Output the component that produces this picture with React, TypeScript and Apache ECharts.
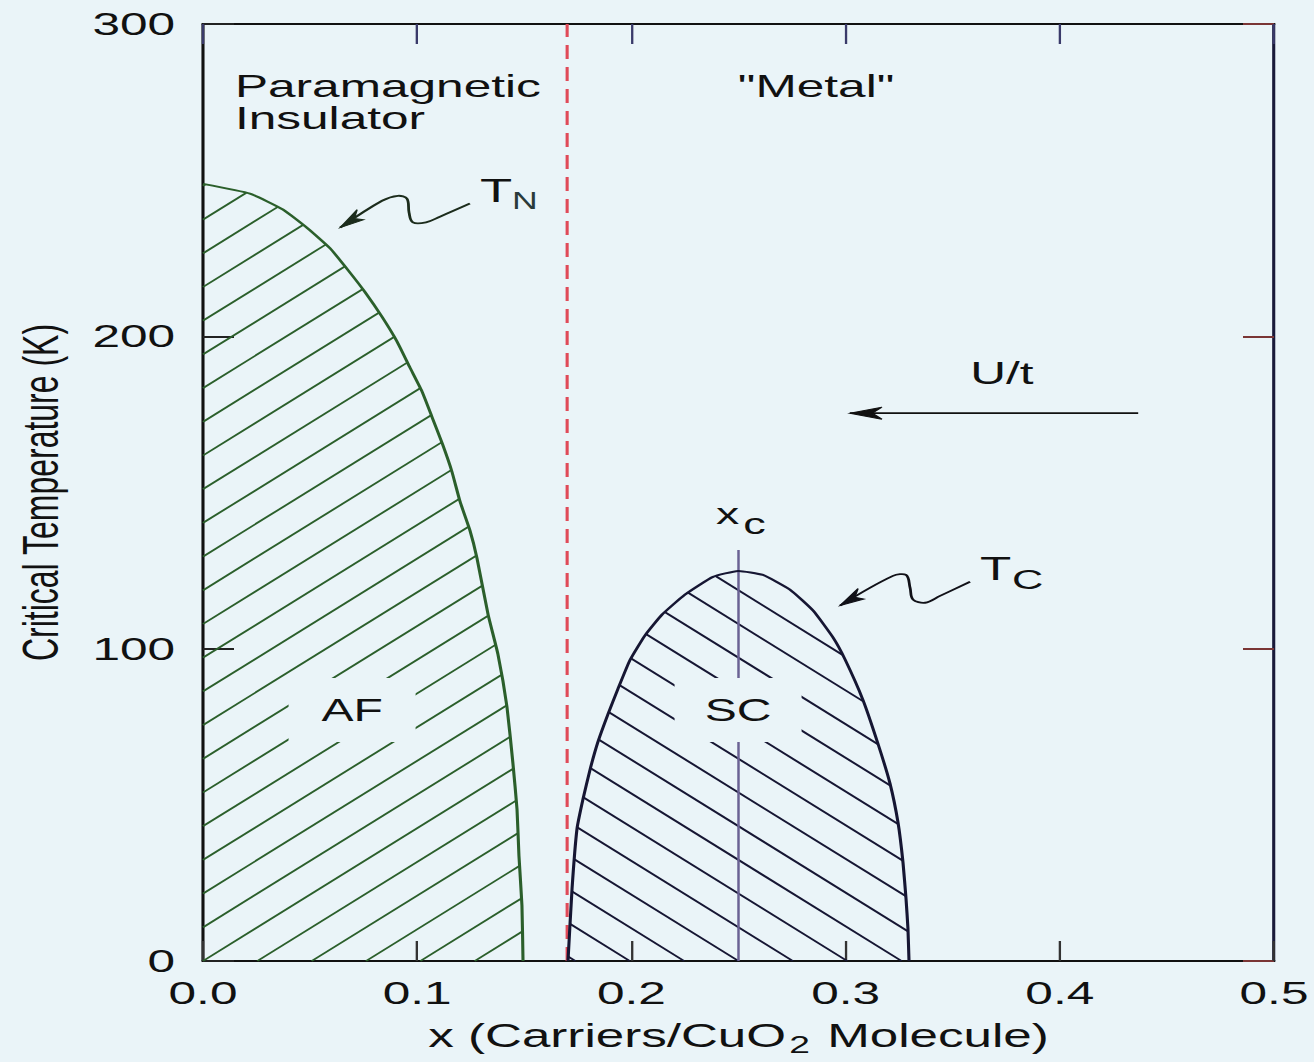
import React, { useEffect, useRef } from 'react';
import * as echarts from 'echarts';

// ---------- data ----------
const X_MIN = 0;
const X_MAX = 0.5;
const X_STEP = 0.1;
const Y_MIN = 0;
const Y_MAX = 300;
const Y_STEP = 100;

// Neel temperature dome (antiferromagnet)
const AF_X = [0, 0.0219, 0.0373, 0.049, 0.0593, 0.0677, 0.0756, 0.0836, 0.0906, 0.0966, 0.1022, 0.1069, 0.1118, 0.1162, 0.12, 0.1246, 0.1279, 0.1331, 0.1377, 0.1419, 0.1447, 0.1466, 0.1475, 0.1489, 0.1494];
const AF_T = [248.8, 245.7, 240.6, 234.5, 228.2, 221.2, 214.2, 206.2, 198.3, 190.0, 182.4, 174.2, 165.5, 156.7, 147.1, 137.9, 129.0, 110.9, 98.2, 81.4, 63.2, 48.6, 33.7, 17.8, 0];

// superconducting dome
const SC_X = [0.1704, 0.1723, 0.1746, 0.1774, 0.1807, 0.1844, 0.1891, 0.1937, 0.1993, 0.2063, 0.2143, 0.225, 0.2381, 0.2498, 0.2614, 0.274, 0.2848, 0.2941, 0.2997, 0.3081, 0.3151, 0.3207, 0.3245, 0.3268, 0.3282, 0.3291, 0.3296];
const SC_T = [0, 23.2, 42.3, 51.8, 61.3, 70.2, 79.1, 87.1, 96.3, 104.2, 110.9, 117.3, 123.0, 124.9, 123.6, 118.9, 112.2, 103.6, 96.6, 83.6, 69.6, 56.9, 44.2, 31.5, 20.0, 10.5, 0];

const BOUNDARY_X = [0.17, 0.17];
const BOUNDARY_T = [0, 300];
const XC_X = [0.25, 0.25];
const XC_T = [0, 131.6];

// annotation arrows (data space)
const TN_ARROW_X = [0.064, 0.0836, 0.091, 0.0952, 0.0962, 0.098, 0.1041, 0.1106, 0.1246];
const TN_ARROW_T = [234.8, 243.4, 245.0, 244.1, 239.6, 236.5, 236.5, 238.3, 242.5];
const TC_ARROW_X = [0.2974, 0.3221, 0.3282, 0.3301, 0.3315, 0.3371, 0.3441, 0.3581];
const TC_ARROW_T = [113.8, 123.3, 123.6, 119.5, 115.7, 114.7, 116.9, 121.4];
const UT_ARROW_X = [0.302, 0.4366];
const UT_ARROW_T = [175.4, 175.4];

// ---------- layout / style ----------
const S = 1314 / 848; // horizontal stretch of the original figure
const W = 848;
const H = 1062;
const BG = '#eaf4f8';
const FONT = '"Liberation Sans", Arial, Helvetica, sans-serif';
const HATCH_SLOPE = 0.62; // in final pixel space
const HATCH_GAP = 33.7; // vertical spacing (px)
const AF_COLOR = '#2b5f2b';
const SC_COLOR = '#161633';
const BOX_W = 127 / S;
const BOX_H = 64;

type P = number[];

function hatch(poly: P[], slope: number, anchor: P, d: number): P[][] {
  const g = (p: P) => p[1] - slope * p[0];
  const c0 = g(anchor);
  const gs = poly.map(g);
  const gmin = Math.min(...gs);
  const gmax = Math.max(...gs);
  const k0 = Math.ceil((gmin - c0) / d);
  const k1 = Math.floor((gmax - c0) / d);
  const segs: P[][] = [];
  for (let k = k0; k <= k1; k++) {
    const c = c0 + k * d;
    const xs: P[] = [];
    for (let i = 0; i < poly.length; i++) {
      const p = poly[i];
      const q = poly[(i + 1) % poly.length];
      const fp = g(p) - c;
      const fq = g(q) - c;
      if ((fp < 0 && fq >= 0) || (fp >= 0 && fq < 0)) {
        const t = fp / (fp - fq);
        xs.push([p[0] + t * (q[0] - p[0]), p[1] + t * (q[1] - p[1])]);
      }
    }
    xs.sort((a, b) => a[0] - b[0]);
    for (let j = 0; j + 1 < xs.length; j += 2) segs.push([xs[j], xs[j + 1]]);
  }
  return segs;
}

function arrowHead(tip: P, from: P, L: number, w: number): P[] {
  let dx = (from[0] - tip[0]) * S;
  let dy = from[1] - tip[1];
  const len = Math.hypot(dx, dy) || 1;
  dx /= len;
  dy /= len;
  const nx = -dy;
  const ny = dx;
  const p = (ax: number, ay: number): P => [tip[0] + ax / S, tip[1] + ay];
  return [tip, p(dx * L + nx * w, dy * L + ny * w), p(dx * L * 0.7, dy * L * 0.7), p(dx * L - nx * w, dy * L - ny * w)];
}

function txt(pos: P, text: string, size: number, align = 'left', color = '#111') {
  return {
    type: 'text',
    x: pos[0],
    y: pos[1],
    style: { text, fill: color, fontSize: size, fontFamily: FONT, align, verticalAlign: 'middle' },
  };
}

function domeRender(xs: number[], ts: number[], closeCorner: P | null, slopeSign: number, anchor: P, color: string, hatchW: number, label: string, labelPos: P, extraLine: boolean) {
  return (_params: any, api: any) => {
    const pts = xs.map((x, i) => api.coord([x, ts[i]]));
    const poly = closeCorner ? [api.coord(closeCorner), ...pts] : pts;
    const segs = hatch(poly, slopeSign * HATCH_SLOPE * S, api.coord(anchor), HATCH_GAP);
    const children: any[] = segs.map(([a, b]) => ({
      type: 'line',
      shape: { x1: a[0], y1: a[1], x2: b[0], y2: b[1] },
      style: { stroke: color, lineWidth: hatchW },
    }));
    if (extraLine) {
      const a = api.coord([XC_X[0], XC_T[0]]);
      const b = api.coord([XC_X[1], XC_T[1]]);
      children.push({
        type: 'line',
        shape: { x1: a[0], y1: a[1], x2: b[0], y2: b[1] },
        style: { stroke: '#6a6294', lineWidth: 1.6 },
      });
    }
    children.push({
      type: 'polyline',
      shape: { points: pts, smooth: 0.15 },
      style: { stroke: color, lineWidth: 2, fill: 'none' },
    });
    const c = api.coord(labelPos);
    children.push({
      type: 'rect',
      shape: { x: c[0] - BOX_W / 2, y: c[1] - BOX_H / 2, width: BOX_W, height: BOX_H },
      style: { fill: BG },
    });
    children.push(txt(c, label, 31, 'center'));
    return { type: 'group', children };
  };
}

function annotationsRender(_params: any, api: any) {
  const ch: any[] = [];
  const c = (x: number, t: number) => api.coord([x, t]);
  ch.push(txt(c(0.0149, 280.3), 'Paramagnetic', 32));
  ch.push(txt(c(0.0149, 269.8), 'Insulator', 32));
  ch.push(txt(c(0.2862, 280.3), '"Metal"', 32, 'center'));
  ch.push(txt(c(0.1293, 246.8), 'T', 34));
  ch.push(txt(c(0.1443, 243.4), 'N', 23, 'left', '#2a3a3a'));
  ch.push(txt(c(0.3627, 125.8), 'T', 33));
  ch.push(txt(c(0.3777, 122.3), 'C', 28));
  ch.push(txt(c(0.2395, 143.2), 'x', 30));
  ch.push(txt(c(0.2522, 140.0), 'c', 29));
  ch.push(txt(c(0.373, 188.4), 'U/t', 32, 'center'));

  const arrows: [number[], number[], string, number, number, number][] = [
    [TN_ARROW_X, TN_ARROW_T, '#1c2c1c', 1.8, 24, 6],
    [TC_ARROW_X, TC_ARROW_T, '#111118', 1.8, 24, 6],
    [UT_ARROW_X, UT_ARROW_T, '#111', 1.6, 32, 6],
  ];
  arrows.forEach(([xs, ts, col, lw, L, w]) => {
    const pts = xs.map((x, i) => api.coord([x, ts[i]]));
    ch.push({
      type: 'polyline',
      shape: { points: pts, smooth: xs.length > 2 ? 0.35 : 0 },
      style: { stroke: col, lineWidth: lw, fill: 'none' },
    });
    ch.push({
      type: 'polygon',
      shape: { points: arrowHead(pts[0], pts[1], L, w) },
      style: { fill: col, stroke: col, lineWidth: 1 },
    });
  });
  return { type: 'group', children: ch };
}

export default function App() {
  const ref = useRef<HTMLDivElement>(null);
  useEffect(() => {
    if (!ref.current) return;
    const chart = echarts.init(ref.current, null, { renderer: 'svg' });
    const axisCommonX = {
      type: 'value',
      min: X_MIN,
      max: X_MAX,
      interval: X_STEP,
      splitLine: { show: false },
    };
    const axisCommonY = {
      type: 'value',
      min: Y_MIN,
      max: Y_MAX,
      interval: Y_STEP,
      splitLine: { show: false },
    };
    chart.setOption({
      animation: false,
      backgroundColor: BG,
      grid: { left: 203 / S, right: 40 / S, top: 24, bottom: 96, containLabel: false },
      xAxis: [
        {
          ...axisCommonX,
          position: 'bottom',
          axisLine: { show: true, onZero: false, lineStyle: { color: '#111', width: 2 } },
          axisTick: { show: true, inside: true, length: 20, lineStyle: { color: '#333', width: 1.5 } },
          axisLabel: {
            formatter: (v: number) => v.toFixed(1),
            fontSize: 32,
            fontFamily: FONT,
            color: '#111',
            margin: 16,
          },
          name: '{a|x (Carriers/CuO}{b|2}{a| Molecule)}',
          nameLocation: 'middle',
          nameGap: 54,
          nameTextStyle: {
            rich: {
              a: { fontSize: 33, fontFamily: FONT, color: '#111' },
              b: { fontSize: 24, fontFamily: FONT, color: '#111', padding: [18, 2, 0, 2] },
            },
          },
        },
        {
          ...axisCommonX,
          position: 'top',
          axisLine: { show: true, onZero: false, lineStyle: { color: '#111', width: 2 } },
          axisTick: { show: true, inside: true, length: 20, lineStyle: { color: '#3a3a6a', width: 1.5 } },
          axisLabel: { show: false },
        },
      ],
      yAxis: [
        {
          ...axisCommonY,
          position: 'left',
          axisLine: { show: true, onZero: false, lineStyle: { color: '#111', width: 2 } },
          axisTick: { show: true, inside: true, length: 20, lineStyle: { color: '#222', width: 2 } },
          axisLabel: { fontSize: 32, fontFamily: FONT, color: '#111', margin: 18 },
          name: 'Critical Temperature (K)',
          nameLocation: 'middle',
          nameGap: 89,
          nameRotate: 90,
          nameTextStyle: { fontSize: 32, fontFamily: FONT, color: '#111' },
        },
        {
          ...axisCommonY,
          position: 'right',
          axisLine: { show: true, onZero: false, lineStyle: { color: '#1a1a3a', width: 2 } },
          axisTick: { show: true, inside: true, length: 20, lineStyle: { color: '#7a3535', width: 2 } },
          axisLabel: { show: false },
        },
      ],
      series: [
        {
          type: 'line',
          name: 'boundary',
          data: BOUNDARY_X.map((x, i) => [x, BOUNDARY_T[i]]),
          symbol: 'none',
          lineStyle: { color: '#e04a58', width: 2, type: [14, 8] },
          z: 1,
        },
        {
          type: 'custom',
          name: 'AF',
          data: [[0, 0]],
          renderItem: domeRender(AF_X, AF_T, [0, 0], -1, [0, 0], AF_COLOR, 1.6, 'AF', [0.0696, 80.4], false),
          z: 2,
        },
        {
          type: 'custom',
          name: 'SC',
          data: [[0, 0]],
          renderItem: domeRender(SC_X, SC_T, null, 1, [0.25, 0], SC_COLOR, 1.7, 'SC', [0.2498, 80.4], true),
          z: 3,
        },
        {
          type: 'custom',
          name: 'annotations',
          data: [[0, 0]],
          renderItem: annotationsRender,
          z: 4,
        },
      ],
    });
    return () => chart.dispose();
  }, []);
  return (
    <div
      ref={ref}
      style={{
        position: 'absolute',
        left: 0,
        top: 0,
        width: W,
        height: H,
        transform: `scaleX(${S})`,
        transformOrigin: '0 0',
        background: BG,
      }}
    />
  );
}
